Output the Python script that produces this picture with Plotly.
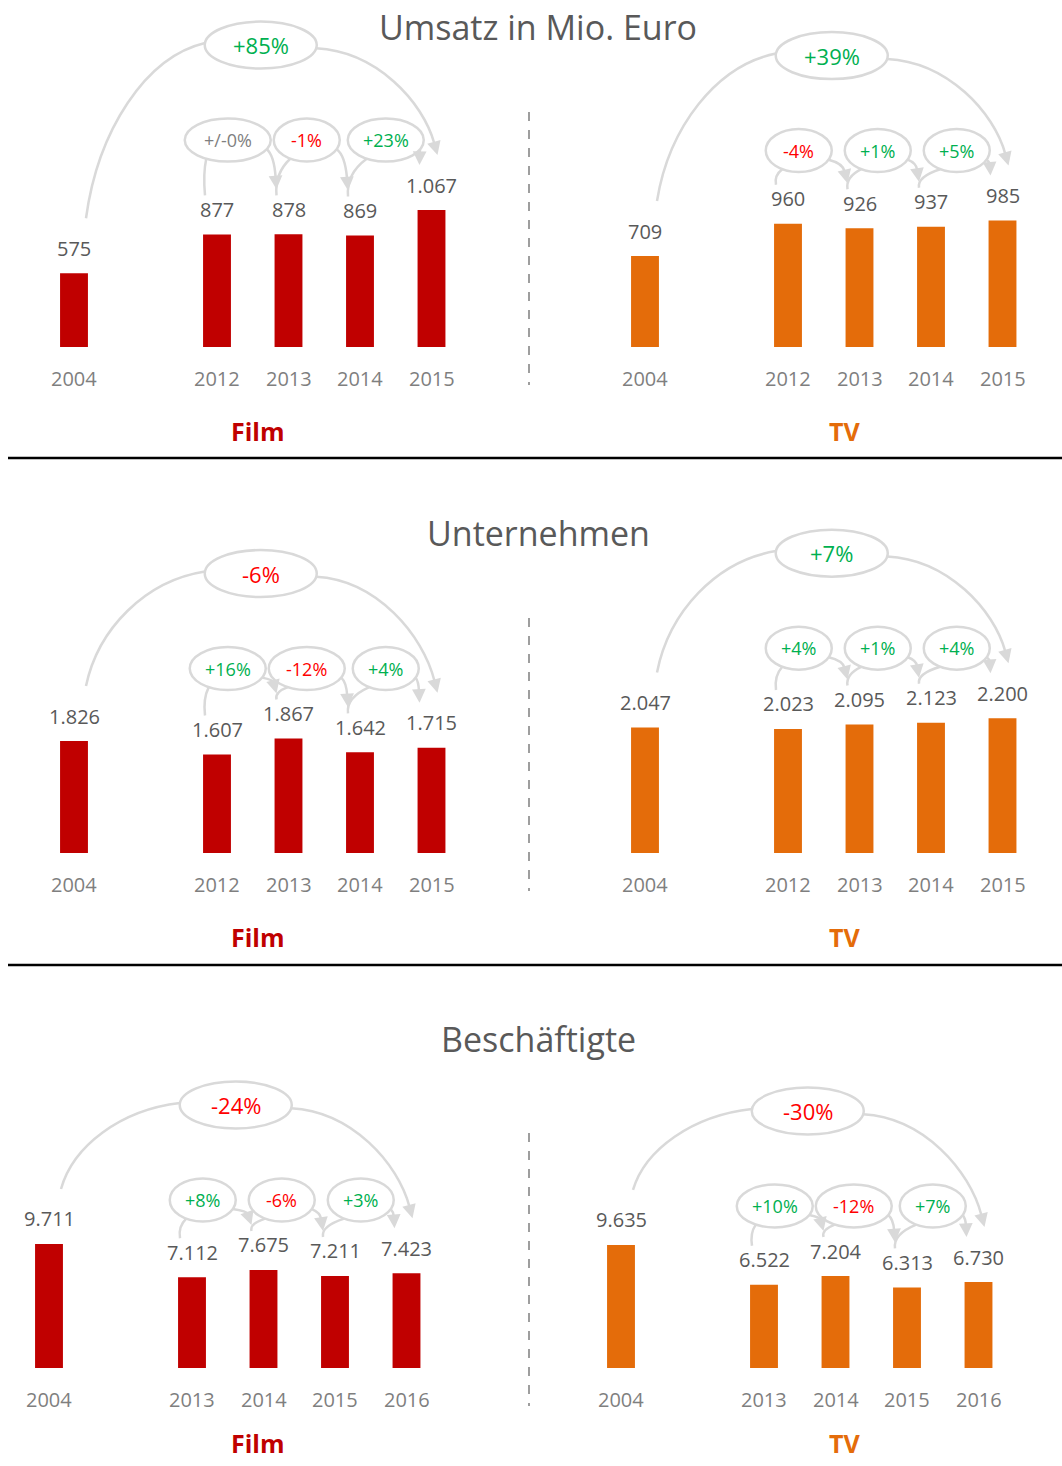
import math
import plotly.graph_objects as go

W, H = 1062, 1466

# ---------------- data ----------------
titles = ["Umsatz in Mio. Euro", "Unternehmen", "Beschäftigte"]
panel_names = ["Film", "TV"]

years_umsatz = ["2004", "2012", "2013", "2014", "2015"]
years_unternehmen = ["2004", "2012", "2013", "2014", "2015"]
years_beschaeftigte = ["2004", "2013", "2014", "2015", "2016"]

film_umsatz = [575, 877, 878, 869, 1067]
tv_umsatz = [709, 960, 926, 937, 985]
film_unternehmen = [1826, 1607, 1867, 1642, 1715]
tv_unternehmen = [2047, 2023, 2095, 2123, 2200]
film_beschaeftigte = [9711, 7112, 7675, 7211, 7423]
tv_beschaeftigte = [9635, 6522, 7204, 6313, 6730]

film_umsatz_steps = ["+/-0%", "-1%", "+23%"]
tv_umsatz_steps = ["-4%", "+1%", "+5%"]
film_unternehmen_steps = ["+16%", "-12%", "+4%"]
tv_unternehmen_steps = ["+4%", "+1%", "+4%"]
film_beschaeftigte_steps = ["+8%", "-6%", "+3%"]
tv_beschaeftigte_steps = ["+10%", "-12%", "+7%"]

film_umsatz_total = "+85%"
tv_umsatz_total = "+39%"
film_unternehmen_total = "-6%"
tv_unternehmen_total = "+7%"
film_beschaeftigte_total = "-24%"
tv_beschaeftigte_total = "-30%"

# ---------------- styles / layout ----------------
FONT = "Open Sans"
FILM_COLOR = "#C00000"
TV_COLOR = "#E46C0A"
GREEN = "#00B050"
RED = "#FF0000"
NEUTRAL = "#7F7F7F"
ARC = "#D9D9D9"
TEXT = "#595959"
YEAR = "#7F7F7F"

UX = 71.5                 # px per category slot
SLOT = [0, 2, 3, 4, 5]    # slot index of each category (gap after 2004)
BAR_W = 0.39

sections = [
    dict(B=347, k=0.1283, T=0, fx=74, tx=645, ty=27, ly=431),
    dict(B=853, k=0.0613, T=470, fx=74, tx=645, ty=533, ly=937),
    dict(B=1368, k=0.01277, T=975, fx=49, tx=621, ty=1039, ly=1443),
]
hlines_y = [458, 965]

traces, shapes, annotations, axes = [], [], [], {}


def fmt(v):
    return f"{v:,}".replace(",", ".")


def pct_color(t):
    if t.startswith("+/-"):
        return NEUTRAL
    return GREEN if t.startswith("+") else RED


def add_panel(n, values, years, steps, total, color, sec, x0px, dom):
    xname = "x" if n == 1 else f"x{n}"
    yname = "y" if n == 1 else f"y{n}"
    B, k, T = sec["B"], sec["k"], sec["T"]
    ext = 60
    axes["xaxis" if n == 1 else f"xaxis{n}"] = dict(
        domain=[dom[0] / W, dom[1] / W],
        range=[(dom[0] - x0px) / UX, (dom[1] - x0px) / UX],
        visible=False, anchor=yname, fixedrange=True)
    axes["yaxis" if n == 1 else f"yaxis{n}"] = dict(
        domain=[1 - (B + ext) / H, 1 - T / H],
        range=[-ext / k, (B - T) / k],
        visible=False, anchor=xname, fixedrange=True)

    def X(u):
        return x0px + UX * u

    def Y(v):
        return B - k * v

    def D(p):
        return ((p[0] - x0px) / UX, (B - p[1]) / k)

    def path(cmds):
        s = []
        for c, pts in cmds:
            s.append(c + " " + " ".join(f"{D(p)[0]:.5f},{D(p)[1]:.5f}" for p in pts))
        return " ".join(s)

    def arrow_head(tip, d, L=14):
        annotations.append(dict(
            x=D(tip)[0], y=D(tip)[1], xref=xname, yref=yname,
            ax=-L * d[0], ay=-L * d[1], axref="pixel", ayref="pixel",
            showarrow=True, arrowhead=2, arrowsize=1.1, arrowwidth=2.5,
            arrowcolor=ARC, text="", standoff=0))

    def unit(dx, dy):
        m = math.hypot(dx, dy)
        return (dx / m, dy / m)

    def ellipse(cx, cy, a, b, txt, size):
        x0, y0 = D((cx - a, cy + b))
        x1, y1 = D((cx + a, cy - b))
        shapes.append(dict(type="circle", xref=xname, yref=yname,
                           x0=x0, y0=y0, x1=x1, y1=y1,
                           line=dict(color=ARC, width=2.5), fillcolor="white",
                           layer="above"))
        annotations.append(dict(x=D((cx, cy))[0], y=D((cx, cy))[1],
                                xref=xname, yref=yname, text=txt, showarrow=False,
                                xanchor="center", yanchor="middle",
                                font=dict(family=FONT, size=size, color=pct_color(txt))))

    def ept(cx, cy, a, b, deg):
        t = math.radians(deg)
        return (cx + a * math.cos(t), cy - b * math.sin(t))

    traces.append(go.Bar(x=SLOT, y=values, width=BAR_W,
                         marker=dict(color=color, line=dict(width=0)),
                         xaxis=xname, yaxis=yname, hoverinfo="skip",
                         showlegend=False))

    lx = [X(s) for s in SLOT]
    ly = [Y(v) - 25 for v in values]
    for s, v, yr in zip(SLOT, values, years):
        annotations.append(dict(x=s, y=v, xref=xname, yref=yname, text=fmt(v),
                                showarrow=False, yshift=25,
                                xanchor="center", yanchor="middle",
                                font=dict(family=FONT, size=20, color=TEXT)))
        annotations.append(dict(x=s, y=0, xref=xname, yref=yname, text=yr,
                                showarrow=False, yshift=-31,
                                xanchor="center", yanchor="middle",
                                font=dict(family=FONT, size=20, color=YEAR)))

    R = min(Y(v) for v in values[1:]) - 70
    sty = dict(color=ARC, width=2.5)

    # step-by-step changes
    for i, txt in enumerate(steps):
        j = i + 1
        a = (36 + 10 * len(txt)) / 2
        b = 21.5
        cx = (lx[j] + lx[j + 1]) / 2 - 25 + 7.5 * i
        cy = R
        # tail from label j up to ellipse
        S = (lx[j] - 12, ly[j] - 14)
        E = ept(cx, cy, a, b, 240)
        C = (S[0] - 2, S[1] - 0.6 * (S[1] - E[1]))
        shapes.append(dict(type="path", xref=xname, yref=yname,
                           path=path([("M", [S]), ("Q", [C, E])]), line=sty))
        # arrow from ellipse to label j+1
        A = ept(cx, cy, a, b, -25)
        Tp = (lx[j + 1] - 12, ly[j + 1] - 20)
        dx, dy = Tp[0] - A[0], Tp[1] - A[1]
        C = (A[0] + 0.75 * dx, A[1] + 0.15 * dy)
        d = unit(Tp[0] - C[0], Tp[1] - C[1])
        Ep = (Tp[0] - 12 * d[0], Tp[1] - 12 * d[1])
        shapes.append(dict(type="path", xref=xname, yref=yname,
                           path=path([("M", [A]), ("Q", [C, Ep])]), line=sty))
        arrow_head(Tp, d)
        ellipse(cx, cy, a, b, txt, 18)

    # overall change
    a, b = 56, 23.5
    cx = (lx[0] + lx[-1]) / 2 + 8
    cy = R - 95
    S = (lx[0] + 12, ly[0] - 30)
    E = ept(cx, cy, a, b, 175)
    dx, dy = E[0] - S[0], E[1] - S[1]
    C1 = (S[0] + 0.1 * dx, S[1] + 0.5 * dy)
    C2 = (E[0] - 0.5 * dx, E[1] - 0.08 * dy)
    shapes.append(dict(type="path", xref=xname, yref=yname,
                       path=path([("M", [S]), ("C", [C1, C2, E])]), line=sty))
    A = ept(cx, cy, a, b, -8)
    Tp = (lx[-1] + 6, ly[-1] - 30)
    dx, dy = Tp[0] - A[0], Tp[1] - A[1]
    C1 = (A[0] + 0.5 * dx, A[1] + 0.03 * dy)
    C2 = (Tp[0] - 0.12 * dx, Tp[1] - 0.5 * dy)
    d = unit(Tp[0] - C2[0], Tp[1] - C2[1])
    Ep = (Tp[0] - 12 * d[0], Tp[1] - 12 * d[1])
    shapes.append(dict(type="path", xref=xname, yref=yname,
                       path=path([("M", [A]), ("C", [C1, C2, Ep])]), line=sty))
    arrow_head(Tp, d)
    ellipse(cx, cy, a, b, total, 22)


panels = [
    (film_umsatz, tv_umsatz, years_umsatz, film_umsatz_steps, tv_umsatz_steps,
     film_umsatz_total, tv_umsatz_total),
    (film_unternehmen, tv_unternehmen, years_unternehmen, film_unternehmen_steps,
     tv_unternehmen_steps, film_unternehmen_total, tv_unternehmen_total),
    (film_beschaeftigte, tv_beschaeftigte, years_beschaeftigte, film_beschaeftigte_steps,
     tv_beschaeftigte_steps, film_beschaeftigte_total, tv_beschaeftigte_total),
]

MID = 529
n = 1
for si, (fv, tv, yrs, fs, ts, ft, tt) in enumerate(panels):
    sec = sections[si]
    add_panel(n, fv, yrs, fs, ft, FILM_COLOR, sec, sec["fx"], (0, MID))
    n += 1
    add_panel(n, tv, yrs, ts, tt, TV_COLOR, sec, sec["tx"], (MID, W))
    n += 1
    annotations.append(dict(x=538 / W, y=1 - sec["ty"] / H, xref="paper", yref="paper",
                            text=titles[si], showarrow=False,
                            xanchor="center", yanchor="middle",
                            font=dict(family=FONT, size=34, color=TEXT)))
    for name, px, col in [(panel_names[0], 258, FILM_COLOR), (panel_names[1], 844, TV_COLOR)]:
        annotations.append(dict(x=px / W, y=1 - sec["ly"] / H, xref="paper", yref="paper",
                                text=f"<b>{name}</b>", showarrow=False,
                                xanchor="center", yanchor="middle",
                                font=dict(family=FONT, size=25, color=col)))
    # dashed separator
    shapes.append(dict(type="line", xref="paper", yref="paper",
                       x0=MID / W, x1=MID / W,
                       y0=1 - (sec["B"] - 235) / H, y1=1 - (sec["B"] + 38) / H,
                       line=dict(color="#7F7F7F", width=1.5, dash="dash")))

for hy in hlines_y:
    shapes.append(dict(type="line", xref="paper", yref="paper",
                       x0=8 / W, x1=1, y0=1 - hy / H, y1=1 - hy / H,
                       line=dict(color="black", width=2.5)))

fig = go.Figure(data=traces)
fig.update_layout(
    width=W, height=H, margin=dict(l=0, r=0, t=0, b=0),
    paper_bgcolor="white", plot_bgcolor="white", showlegend=False,
    shapes=shapes, annotations=annotations, font=dict(family=FONT),
    **axes)

fig.write_html("out.html", config={"displayModeBar": False},
               post_script="document.body.style.margin='0px';")
